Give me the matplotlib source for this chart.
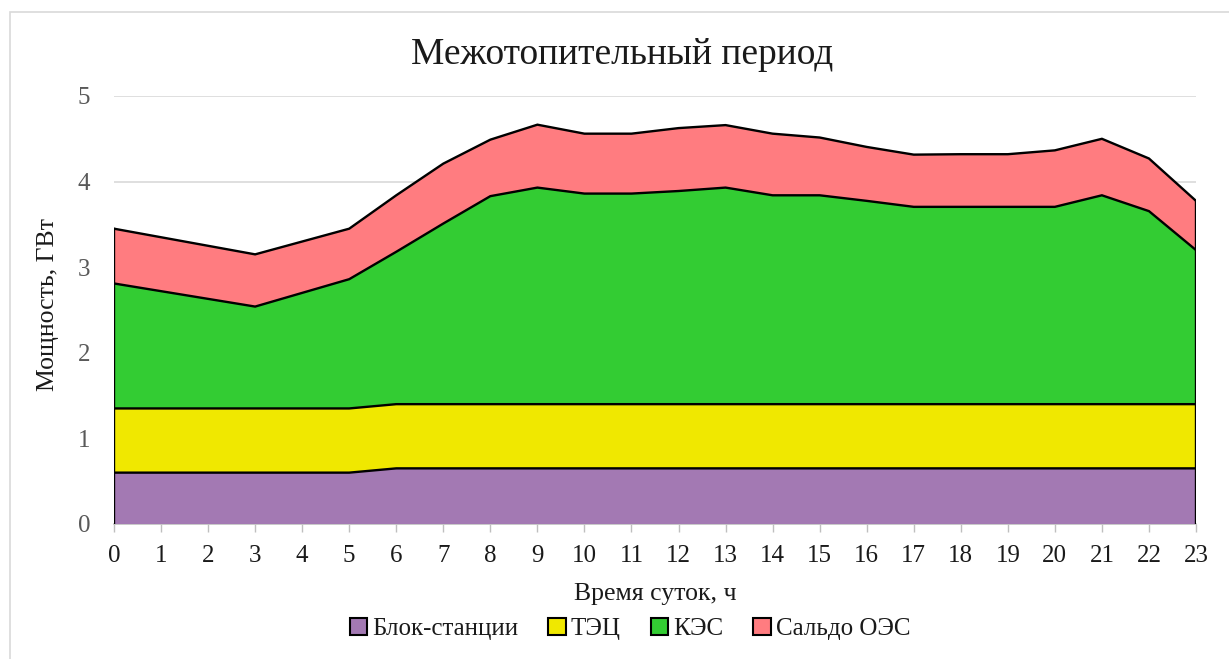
import numpy as np
import matplotlib
matplotlib.use("Agg")
import matplotlib.pyplot as plt
from matplotlib.patches import Rectangle, Patch

plt.rcParams['font.family'] = ['Liberation Serif', 'DejaVu Serif']

hours = list(range(24))
block = [0.6]*6 + [0.65]*18
tec = [0.75]*24
kes = [1.46, 1.37, 1.28, 1.19, 1.35, 1.51, 1.78, 2.11, 2.43, 2.53, 2.46, 2.46,
       2.49, 2.53, 2.44, 2.44, 2.375, 2.305, 2.305, 2.305, 2.305, 2.44, 2.255, 1.80]
saldo = [0.64, 0.63, 0.62, 0.61, 0.60, 0.59, 0.66, 0.70, 0.66, 0.735, 0.70, 0.70,
         0.735, 0.73, 0.72, 0.675, 0.63, 0.61, 0.615, 0.615, 0.66, 0.66, 0.615, 0.575]
labels = ['Блок-станции', 'ТЭЦ', 'КЭС', 'Сальдо ОЭС']
colors = ['#a379b3', '#f0e800', '#33cc33', '#ff7c80']

W, H = 1229, 659
fig = plt.figure(figsize=(W/100, H/100), dpi=100)
ax = fig.add_axes([114/W, 1-524/H, (1196-114)/W, (524-96)/H])

series = [block, tec, kes, saldo]
ax.stackplot(hours, *series, colors=colors, linewidth=0, zorder=2)
cum = np.cumsum(np.array(series), axis=0)
for row in cum:
    ax.plot(hours, row, color='black', lw=1.7, zorder=3, solid_joinstyle='miter')
ax.plot([hours[0], hours[0]], [0, cum[-1][0]], color='black', lw=1.7, zorder=3)
ax.plot([hours[-1], hours[-1]], [0, cum[-1][-1]], color='black', lw=1.7, zorder=3)

ax.set_xlim(0, 23)
ax.set_ylim(0, 5)
ax.set_xticks(hours)
ax.set_yticks([0, 1, 2, 3, 4, 5])
ax.yaxis.grid(True, color='#d9d9d9', lw=1.2, zorder=0)
ax.set_axisbelow(True)
for s in ['top', 'right', 'left']:
    ax.spines[s].set_visible(False)
ax.spines['bottom'].set_color('#bfbfbf')
ax.spines['bottom'].set_linewidth(1.2)
ax.spines['bottom'].set_zorder(1)
ax.tick_params(axis='x', direction='out', length=6, color='#bfbfbf', width=1,
               labelsize=18, labelcolor='#1a1a1a', pad=9)
ax.tick_params(axis='y', length=0, labelsize=18, labelcolor='#595959', pad=17)

fig.text(622/W, 1-55/H, 'Межотопительный период', fontsize=27, color='#1a1a1a',
         ha='center', va='center')
fig.text(655/W, 1-594/H, 'Время суток, ч', fontsize=18.5, color='#1a1a1a',
         ha='center', va='center')
fig.text(48/W, 1-305/H, 'Мощность, ГВт', fontsize=18.5, color='#1a1a1a',
         ha='center', va='center', rotation=90)

handles = [Patch(facecolor=c, edgecolor='black', lw=1.5) for c in colors]
fig.legend(handles, labels, loc='center', bbox_to_anchor=(630/W, 1-629/H),
           ncol=4, frameon=False, fontsize=18, handlelength=0.7, handleheight=0.7,
           handletextpad=0.2, columnspacing=1.2, labelcolor='#1a1a1a',
           borderpad=0)

fig.patches.append(Rectangle((10/W, -0.1), 1.2, 1 - 12/H + 0.1, transform=fig.transFigure,
                             fill=False, edgecolor='#d9d9d9', lw=1.2))

fig.savefig('out.png', dpi=100, facecolor='white')
